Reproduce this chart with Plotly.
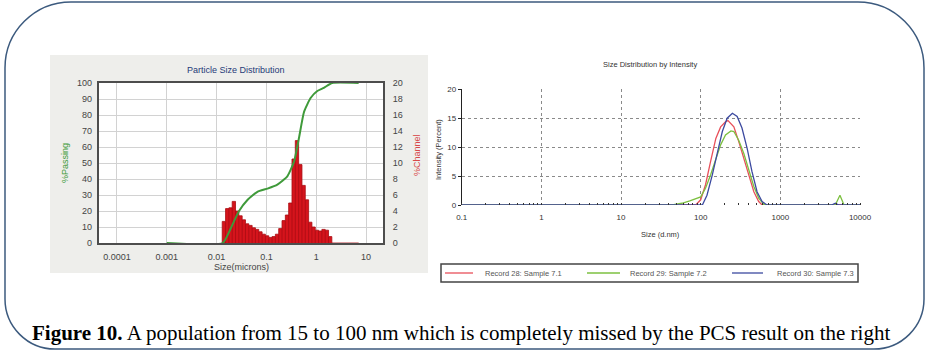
import plotly.graph_objects as go

W, H = 941, 358

# ---------------- Left chart data (Particle Size Distribution) ----------------
psd_xticks = [0.0001, 0.001, 0.01, 0.1, 1, 10]
psd_xtick_labels = ["0.0001", "0.001", "0.01", "0.1", "1", "10"]

# %Passing (cumulative) curve, size in microns
passing_size = [0.001, 0.0132, 0.0194, 0.028, 0.042, 0.066, 0.105, 0.166, 0.263, 0.36, 0.45, 0.57, 0.77, 1.05, 1.42, 2.09, 7.1]
passing_pct = [0, 0, 9.4, 19.8, 27, 32, 34, 36.5, 41.7, 51, 65.6, 82, 90.6, 95, 97, 100, 100]

# %Channel histogram: bin edges (microns) and heights
channel_edges = [0.01298, 0.01514, 0.01765, 0.02058, 0.02399, 0.02797, 0.03262, 0.03802, 0.04434,
                 0.0517, 0.06026, 0.07027, 0.08193, 0.0955, 0.1114, 0.1298, 0.1514, 0.1765, 0.2058,
                 0.2399, 0.2797, 0.3262, 0.3802, 0.4434, 0.517, 0.6026, 0.7027, 0.8193, 0.955,
                 1.114, 1.298, 1.514, 1.765, 2.058]
channel_pct = [2.7, 4.3, 4.4, 5.2, 4.0, 3.4, 2.9, 2.4, 2.2, 1.9, 1.7, 1.4, 1.1, 0.9, 0.7, 0.8,
               1.1, 1.8, 2.8, 3.5, 5.0, 10.5, 12.8, 9.8, 7.2, 5.4, 2.6, 2.0, 1.6, 1.5, 1.7, 1.6, 0.8]
channel_tail_end = 7.1

# ---------------- Right chart data (Size Distribution by Intensity) ----------------
dls_xticks = [0.1, 1, 10, 100, 1000, 10000]
dls_xtick_labels = ["0.1", "1", "10", "100", "1000", "10000"]
series_names = ["Record 28: Sample 7.1", "Record 29: Sample 7.2", "Record 30: Sample 7.3"]

rec28_size = [0.1, 86.6, 100, 115, 133, 155, 178, 205, 220, 261, 300, 348, 400, 465, 535, 590, 10000]
rec28_int = [0, 0, 0.9, 3.5, 7.5, 11.5, 13.5, 14.4, 14.6, 13.5, 11, 8.1, 5.2, 2.3, 0.6, 0, 0]

rec29_size = [0.1, 44, 58, 73, 100, 115, 133, 155, 178, 205, 240, 261, 300, 348, 400, 465, 535, 620, 680, 4900, 5600, 6300, 10000]
rec29_int = [0, 0, 0.3, 0.7, 1.4, 2.9, 5.2, 8.1, 10.4, 12.1, 12.8, 12.7, 11.2, 8.9, 6.1, 3.2, 1.2, 0.1, 0, 0, 1.7, 0, 0]

rec30_size = [0.1, 105, 120, 140, 163, 187, 215, 250, 287, 330, 383, 440, 510, 590, 680, 4400, 4900, 5400, 10000]
rec30_int = [0, 0, 1.7, 5.2, 9.2, 12.7, 15.0, 15.85, 15.3, 13.3, 9.8, 5.8, 2.3, 0.6, 0, 0, 0.3, 0, 0]

caption = "<b>Figure 10.</b> A population from 15 to 100 nm which is completely missed by the PCS result on the right"


def px(x):
    return x / W


def py(y):
    return 1 - y / H


fig = go.Figure()

# histogram as step outline (log axis friendly)
hx = [channel_edges[0]] + channel_edges[:-1] + [channel_edges[-1], channel_tail_end]
hy = [0] + channel_pct + [0, 0]
fig.add_trace(go.Scatter(x=hx, y=hy, mode="lines", line=dict(shape="hv", color="#a80d12", width=0.8),
                         fill="tozeroy", fillcolor="#d5141c", xaxis="x", yaxis="y",
                         showlegend=False, hoverinfo="skip"))
# bar separators
sx, sy = [], []
for i in range(1, len(channel_pct)):
    sx += [channel_edges[i], channel_edges[i], None]
    sy += [0, min(channel_pct[i - 1], channel_pct[i]), None]
fig.add_trace(go.Scatter(x=sx, y=sy, mode="lines", line=dict(color="#9a0a10", width=0.6),
                         xaxis="x", yaxis="y", showlegend=False, hoverinfo="skip"))
# %Passing curve
fig.add_trace(go.Scatter(x=passing_size, y=passing_pct, mode="lines",
                         line=dict(color="#3f9a3a", width=2, shape="spline", smoothing=0.5),
                         xaxis="x", yaxis="y2", showlegend=False))

# right chart curves
colors = ["#e8505a", "#7cc040", "#3c4aa0"]
for name, xs, ys, c in zip(series_names, [rec28_size, rec29_size, rec30_size],
                           [rec28_int, rec29_int, rec30_int], colors):
    fig.add_trace(go.Scatter(x=xs, y=ys, mode="lines", name=name, line=dict(color=c, width=1.3),
                             xaxis="x3", yaxis="y3", showlegend=False))

tickfont_l = dict(family="Liberation Sans", size=9, color="#444444")
tickfont_r = dict(family="Liberation Sans", size=8, color="#333333")

fig.update_layout(
    width=W, height=H, margin=dict(l=0, r=0, t=0, b=0, autoexpand=False),
    paper_bgcolor="white", plot_bgcolor="white",
    xaxis=dict(domain=[px(99), px(383)], type="log", range=[-4.36, 1.34], anchor="y",
               tickvals=psd_xticks, ticktext=psd_xtick_labels, tickfont=tickfont_l,
               showgrid=True, gridcolor="#d2d2d2", gridwidth=1,
               showline=True, mirror=True, linecolor="#4d4d4d", linewidth=2,
               ticks="", ticklabelstandoff=4),
    yaxis=dict(domain=[py(243), py(83)], range=[0, 20], dtick=2, side="right", anchor="x",
               tickfont=tickfont_l, showgrid=True, gridcolor="#d2d2d2", gridwidth=1,
               showline=True, mirror=True, linecolor="#4d4d4d", linewidth=2,
               zeroline=False, ticks="", ticklabelstandoff=6),
    yaxis2=dict(overlaying="y", range=[0, 100], dtick=10, side="left", anchor="x",
                tickfont=tickfont_l, showgrid=False, zeroline=False, ticks="", ticklabelstandoff=6),
    xaxis3=dict(domain=[px(461.7), px(860)], type="log", range=[-1, 4], anchor="y3",
                tickvals=dls_xticks, ticktext=dls_xtick_labels, tickfont=tickfont_r,
                showgrid=True, gridcolor="#8a8a8a", griddash="dot", gridwidth=1,
                showline=False, ticks="", ticklabelstandoff=6,
                minor=dict(ticks="inside", ticklen=2, tickcolor="#333", dtick="D1", showgrid=False)),
    yaxis3=dict(domain=[py(205), py(89.3)], range=[0, 20], dtick=5, anchor="x3",
                tickfont=tickfont_r, showgrid=True, gridcolor="#8a8a8a", griddash="dot", gridwidth=1,
                showline=True, linecolor="#222", linewidth=1, zeroline=False,
                ticks="outside", ticklen=3, tickcolor="#222"),
    showlegend=False,
)

# left panel background and white plot area
fig.add_shape(type="rect", xref="paper", yref="paper", x0=px(50), x1=px(428), y0=py(273), y1=py(55),
              fillcolor="#eeeeeb", line=dict(width=0), layer="below")
fig.add_shape(type="rect", xref="paper", yref="paper", x0=px(99), x1=px(383), y0=py(243), y1=py(83),
              fillcolor="white", line=dict(width=0), layer="below")

# rounded outer frame
L, R, T, B = 5, 924, 2, 349
rt, rb = 66, 50
kt, kb = 0.552 * rt, 0.552 * rb


def P(x, y):
    return f"{px(x):.5f},{py(y):.5f}"


path = (f"M {P(L + rt, T)} L {P(R - rt, T)} C {P(R - rt + kt, T)} {P(R, T + rt - kt)} {P(R, T + rt)} "
        f"L {P(R, B - rb)} C {P(R, B - rb + kb)} {P(R - rb + kb, B)} {P(R - rb, B)} "
        f"L {P(L + rb, B)} C {P(L + rb - kb, B)} {P(L, B - rb + kb)} {P(L, B - rb)} "
        f"L {P(L, T + rt)} C {P(L, T + rt - kt)} {P(L + rt - kt, T)} {P(L + rt, T)} Z")
fig.add_shape(type="path", path=path, xref="paper", yref="paper", line=dict(color="#3c5a7e", width=1.5))

# legend box for the right chart (drawn manually to match the compact original)
fig.add_shape(type="rect", xref="paper", yref="paper", x0=px(441), x1=px(858), y0=py(282), y1=py(264),
              fillcolor="white", line=dict(color="#444", width=1.5))
legend_line_x = [(445, 473), (587, 620), (732, 763)]
legend_text_x = [483, 628, 775]
for (x0, x1), tx, name, c in zip(legend_line_x, legend_text_x, series_names, colors):
    fig.add_shape(type="line", xref="paper", yref="paper", x0=px(x0), x1=px(x1), y0=py(273), y1=py(273),
                  line=dict(color=c, width=1.3))
    fig.add_annotation(xref="paper", yref="paper", showarrow=False, x=px(tx), y=py(273),
                       xanchor="left", yanchor="middle", text=name,
                       font=dict(family="Liberation Sans", size=7.5, color="#555"))

ann = [
    dict(text="Particle Size Distribution", x=px(236), y=py(70), font=dict(family="Liberation Sans", size=9, color="#1f3a78")),
    dict(text="%Passing", x=px(65), y=py(163), textangle=-90, font=dict(family="Liberation Sans", size=9, color="#3f9a3a")),
    dict(text="%Channel", x=px(417), y=py(155), textangle=-90, font=dict(family="Liberation Sans", size=9, color="#d84848")),
    dict(text="Size(microns)", x=px(241), y=py(267), font=dict(family="Liberation Sans", size=9, color="#444")),
    dict(text="Size Distribution by Intensity", x=px(650), y=py(64), font=dict(family="Liberation Sans", size=7.5, color="#333")),
    dict(text="Intensity (Percent)", x=px(439), y=py(150), textangle=-90, font=dict(family="Liberation Sans", size=7.5, color="#333")),
    dict(text="Size (d.nm)", x=px(660), y=py(234), font=dict(family="Liberation Sans", size=7.5, color="#333")),
    dict(text=caption, x=px(461), y=py(333), font=dict(family="Liberation Serif", size=21, color="black")),
]
for a in ann:
    fig.add_annotation(xref="paper", yref="paper", showarrow=False, xanchor="center", yanchor="middle", **a)

fig.write_html("out.html", config={"displayModeBar": False},
               post_script="document.body.style.margin='0';")
